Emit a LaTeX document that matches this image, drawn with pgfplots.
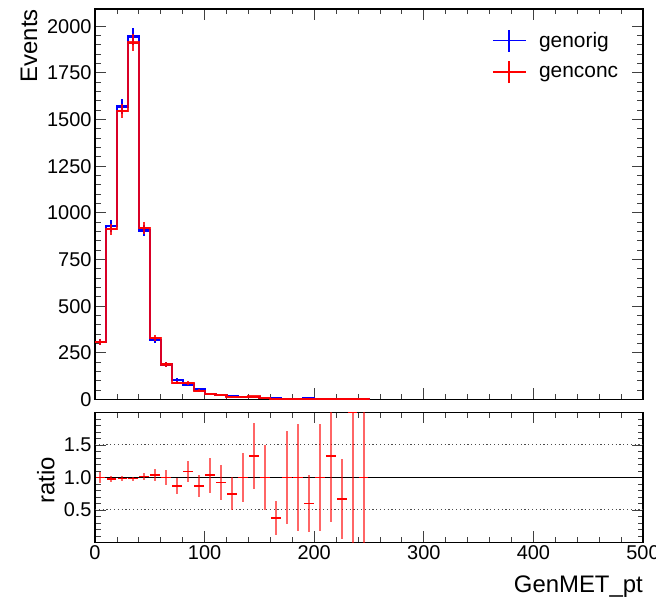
\documentclass[border=0pt]{standalone}
\usepackage{pgfplots}
\usepackage{pgfplotstable}
\pgfplotsset{compat=1.18}
\usepackage{fontspec}
\setmainfont{Liberation Sans}

% GenMET_pt histograms, 10 GeV bins (low edge, genorig, genconc)
\pgfplotstableread{
lo  orig  conc
0   308   308
10  930   912
20  1570  1545
30  1945  1912
40  905   918
50  318   330
60  188   188
70  104   90
80  80    88
90  54    47
100 28    29
110 25    23
120 20    15
130 14    14
140 12    16
150 8     8
160 8     3
170 4     4
180 3     3
190 5     3
200 3     3
210 3     4
220 3     2
230 1     2
240 1     1
250 0     0
}\histtab

% ratio genconc/genorig per bin (centre, ratio, error)
\pgfplotstableread{
x   r      e
5   1.00   0.09
15  0.98   0.05
25  0.985  0.04
35  0.983  0.03
45  1.015  0.05
55  1.036  0.09
65  1.00   0.11
75  0.865  0.12
85  1.095  0.165
95  0.87   0.17
105 1.036  0.27
115 0.92   0.27
125 0.75   0.25
135 1.00   0.375
145 1.333  0.51
155 1.00   0.50
165 0.375  0.26
175 1.00   0.71
185 1.00   0.82
195 0.60   0.44
205 1.00   0.82
215 1.333  1.02
225 0.667  0.61
235 2.00   2.45
245 1.00   1.41
}\ratiotab

\pgfplotsset{
  rootframe/.style={
    scale only axis, width=548bp,
    xmin=0, xmax=500,
    tick align=inside, xtick pos=both, ytick pos=both,
    major tick length=11bp, minor tick length=5.5bp,
    tick style={line width=0.8bp, black!75},
    axis line style={line width=1.4bp, black},
    xtick={0,100,...,500}, minor x tick num=4,
    tick label style={font=\fontsize{20}{24}\selectfont},
    /pgf/number format/assume math mode=true,
    /pgf/number format/1000 sep={},
  },
  crosslegend/.style={
    legend image code/.code={
      \draw[##1] (0bp,0bp) -- (33bp,0bp);
      \draw[##1] (16.5bp,-11bp) -- (16.5bp,11bp);
    }
  },
}

\begin{document}
\begin{tikzpicture}
\useasboundingbox (0,0) rectangle (656bp,600bp);

% upper pad: event counts
\begin{axis}[
  rootframe,
  at={(95bp,200.5bp)}, anchor=south west,
  height=390.5bp,
  ymin=0, ymax=2092,
  ytick={0,250,...,2000}, minor y tick num=4,
  xticklabels={},
  ylabel={Events},
  every axis y label/.style={at={(axis description cs:-0.136,1)}, rotate=90, anchor=north east,
    inner sep=0pt, font=\fontsize{24}{28}\selectfont},
  legend style={draw=none, fill=none, at={(axis description cs:0.724,0.95)}, anchor=north west,
    font=\fontsize{21}{25}\selectfont, row sep=8bp, inner sep=0pt,
    nodes={inner xsep=12.5bp, inner ysep=0pt}},
  legend cell align=left,
]
\addplot[const plot, blue, line width=2.2bp, forget plot] table[x=lo, y=orig] {\histtab};
\addplot[blue, draw=none, mark=none, forget plot, skip coords between index={25}{26},
  error bars/.cd, x dir=both, x fixed=5, y dir=both, y explicit, error mark=none,
  error bar style={blue, draw=blue, line width=2bp}]
  table[x expr=\thisrow{lo}+5, y=orig, y error expr=sqrt(\thisrow{orig})] {\histtab};
\addplot[const plot, red, draw opacity=0.85, line width=2.2bp, forget plot] table[x=lo, y=conc] {\histtab};
\addplot[red, draw=none, mark=none, forget plot, skip coords between index={25}{26},
  error bars/.cd, x dir=both, x fixed=5, y dir=both, y explicit, error mark=none,
  error bar style={red, draw=red, draw opacity=0.85, line width=2bp}]
  table[x expr=\thisrow{lo}+5, y=conc, y error expr=sqrt(\thisrow{conc})] {\histtab};

\addlegendimage{crosslegend, blue, line width=1.6bp}
\addlegendentry{genorig}
\addlegendimage{crosslegend, red, line width=1.6bp}
\addlegendentry{genconc}
\end{axis}

% lower pad: ratio
\begin{axis}[
  rootframe,
  at={(95bp,57.5bp)}, anchor=south west,
  height=130bp,
  ymin=0, ymax=2,
  ytick={0.5,1.0,1.5},
  minor ytick={0.1,0.2,0.3,0.4,0.6,0.7,0.8,0.9,1.1,1.2,1.3,1.4,1.6,1.7,1.8,1.9},
  yticklabel style={/pgf/number format/.cd, fixed, fixed zerofill, precision=1},
  xlabel={GenMET\_pt},
  ylabel={ratio},
  every axis y label/.style={at={(axis description cs:-0.106,0.48)}, rotate=90, anchor=north,
    inner sep=0pt, font=\fontsize{24}{28}\selectfont},
  every axis x label/.style={at={(axis description cs:1,-0.381)}, anchor=base east,
    inner sep=0pt, font=\fontsize{24}{28}\selectfont},
]
\addplot[black!70, line width=1bp, dash pattern=on 1.2bp off 2.6bp] coordinates {(0,0.5) (500,0.5)};
\addplot[black!70, line width=1bp, dash pattern=on 1.2bp off 2.6bp] coordinates {(0,1.5) (500,1.5)};
\addplot[black, line width=1.6bp] coordinates {(0,1) (500,1)};
\addplot[red, draw=none, mark=none,
  error bars/.cd, y dir=both, y explicit, error mark=none,
  error bar style={red, draw=red, draw opacity=0.6, line width=2bp}]
  table[x=x, y=r, y error=e] {\ratiotab};
% horizontal bin-width bars of the ratio points
\addplot[red, only marks, mark=-, mark size=4.9bp,
  mark options={draw=red, line width=1.6bp}]
  table[x=x, y=r] {\ratiotab};
\end{axis}
\end{tikzpicture}
\end{document}
